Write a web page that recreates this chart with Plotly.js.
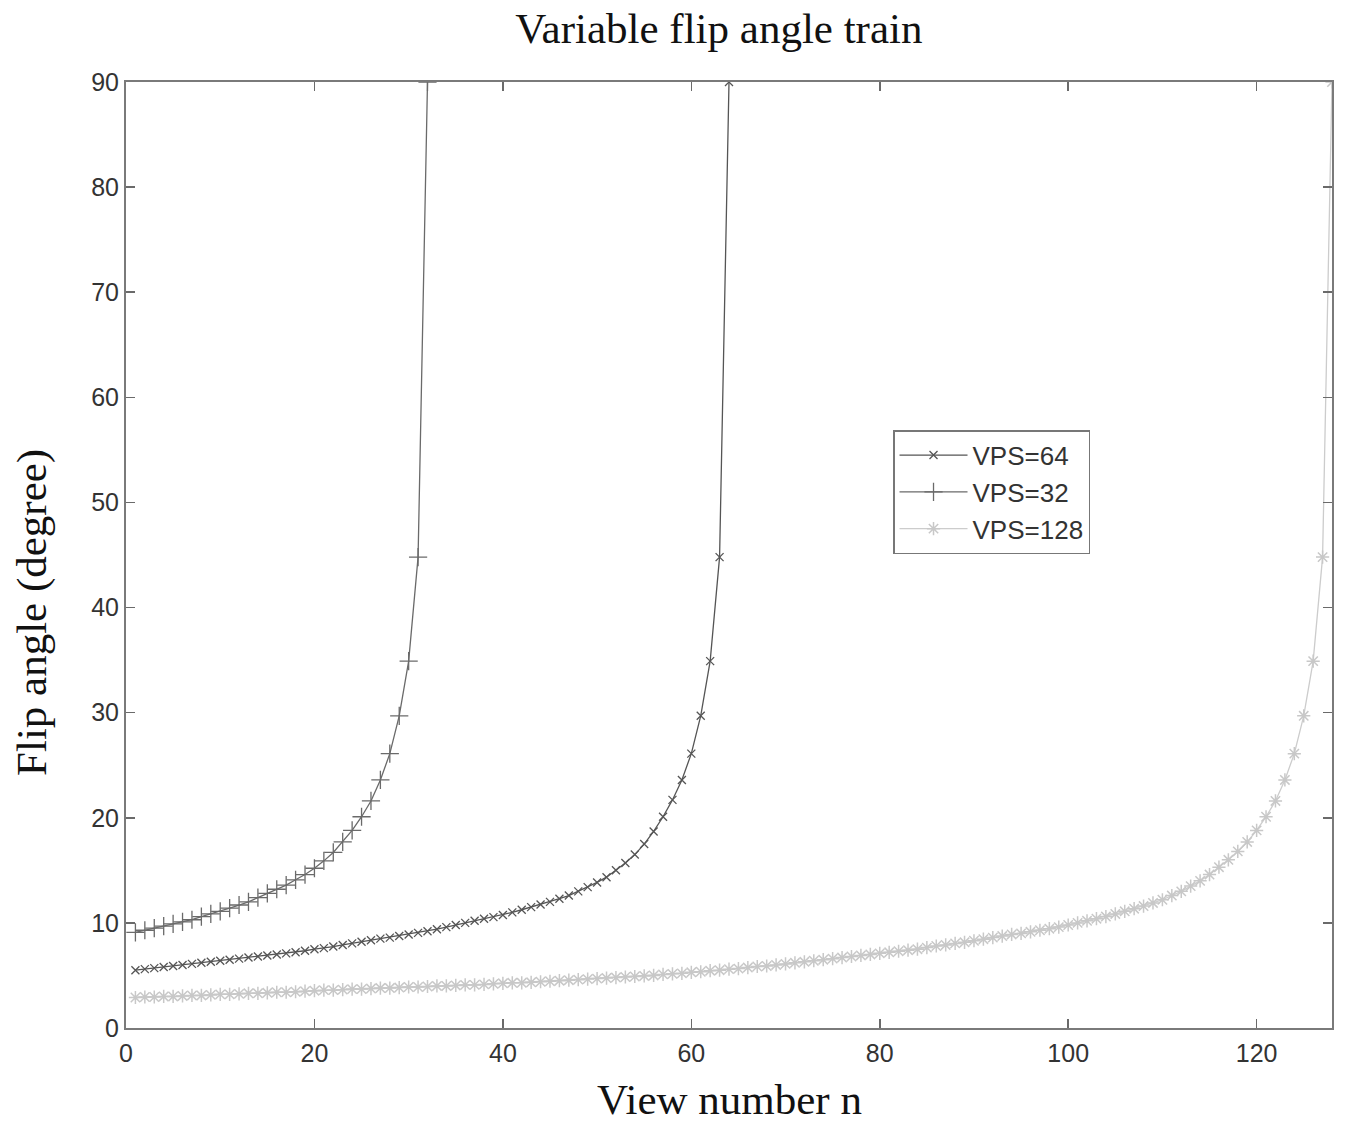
<!DOCTYPE html>
<html>
<head>
<meta charset="utf-8">
<script src="https://cdn.plot.ly/plotly-3.0.1.min.js"></script>
<style>html,body{margin:0;padding:0;background:#fff;}#chart{width:1345px;height:1125px;}</style>
</head>
<body>
<div id="chart"></div>
<script>
// Flip angle (degree) per view number n
const vps32 = [9.1, 9.3, 9.5, 9.7, 9.9, 10.1, 10.3, 10.6, 10.85, 11.1,
  11.4, 11.7, 12.0, 12.4, 12.8, 13.2, 13.6, 14.1, 14.6, 15.2,
  15.9, 16.7, 17.7, 18.8, 20.1, 21.6, 23.6, 26.1, 29.7, 34.9,
  44.8, 90];

const vps64 = [5.5, 5.6, 5.7, 5.8, 5.9, 6.0, 6.1, 6.2, 6.3, 6.4,
  6.5, 6.6, 6.7, 6.8, 6.9, 7.0, 7.1, 7.2, 7.35, 7.5,
  7.6, 7.75, 7.9, 8.05, 8.2, 8.35, 8.5, 8.6, 8.75, 8.9,
  9.05, 9.2, 9.4, 9.6, 9.8, 10.0, 10.2, 10.4, 10.55, 10.75,
  11.0, 11.25, 11.5, 11.75, 12.0, 12.3, 12.6, 13.0, 13.4, 13.85,
  14.35, 15.0, 15.7, 16.5, 17.5, 18.7, 20.1, 21.7, 23.6, 26.1,
  29.7, 34.9, 44.8, 90];

const vps128 = [2.9, 2.95, 2.95, 3.0, 3.0, 3.05, 3.1, 3.1, 3.15, 3.2,
  3.2, 3.25, 3.3, 3.3, 3.35, 3.4, 3.4, 3.45, 3.5, 3.55,
  3.6, 3.6, 3.65, 3.7, 3.7, 3.75, 3.8, 3.8, 3.85, 3.9,
  3.9, 3.95, 4.0, 4.0, 4.05, 4.1, 4.1, 4.15, 4.2, 4.25,
  4.3, 4.3, 4.35, 4.4, 4.45, 4.5, 4.55, 4.6, 4.65, 4.7,
  4.75, 4.8, 4.85, 4.9, 4.95, 5.0, 5.1, 5.15, 5.2, 5.3,
  5.35, 5.45, 5.5, 5.6, 5.65, 5.75, 5.85, 5.9, 6.0, 6.1,
  6.2, 6.3, 6.4, 6.5, 6.6, 6.7, 6.8, 6.9, 7.0, 7.1,
  7.2, 7.3, 7.4, 7.5, 7.65, 7.8, 7.9, 8.05, 8.15, 8.3,
  8.45, 8.6, 8.75, 8.9, 9.0, 9.15, 9.3, 9.45, 9.6, 9.8,
  10.0, 10.2, 10.4, 10.6, 10.85, 11.1, 11.35, 11.6, 11.9, 12.2,
  12.6, 13.0, 13.5, 14.0, 14.6, 15.3, 16.0, 16.8, 17.7, 18.8,
  20.1, 21.6, 23.6, 26.1, 29.7, 34.9, 44.8, 90];

const seriesNames = ["VPS=64", "VPS=32", "VPS=128"];
const xTicks = [0, 20, 40, 60, 80, 100, 120];
const yTicks = [0, 10, 20, 30, 40, 50, 60, 70, 80, 90];

function viewNumbers(arr) { return arr.map((_, i) => i + 1); }

const traces = [
  {
    name: seriesNames[0], x: viewNumbers(vps64), y: vps64,
    type: "scatter", mode: "lines+markers",
    line: {color: "#555555", width: 1.3},
    marker: {symbol: "x-thin", size: 8, color: "#555555", line: {color: "#555555", width: 1.3}}
  },
  {
    name: seriesNames[1], x: viewNumbers(vps32), y: vps32,
    type: "scatter", mode: "lines+markers",
    line: {color: "#6a6a6a", width: 1.3},
    marker: {symbol: "cross-thin", size: 13, color: "#6a6a6a", line: {color: "#6a6a6a", width: 1.3}}
  },
  {
    name: seriesNames[2], x: viewNumbers(vps128), y: vps128,
    type: "scatter", mode: "lines+markers",
    line: {color: "#cccccc", width: 1.3},
    marker: {symbol: "asterisk", size: 11, color: "#c8c8c8", line: {color: "#c8c8c8", width: 1.5}}
  }
];

const serif = "Liberation Serif, Times New Roman, serif";
const sans = "Liberation Sans, Arial, sans-serif";

const axisCommon = {
  showline: true, linecolor: "#7a7a7a", linewidth: 2, mirror: "ticks",
  ticks: "inside", ticklen: 9, tickwidth: 1.5, tickcolor: "#6a6a6a",
  showgrid: false, zeroline: false,
  tickfont: {family: sans, size: 25, color: "#333"}
};

const layout = {
  width: 1345, height: 1125,
  paper_bgcolor: "#ffffff", plot_bgcolor: "#ffffff",
  margin: {l: 126, r: 13, t: 82, b: 97},
  title: {
    text: "Variable flip angle train",
    font: {family: serif, size: 43, color: "#111"},
    x: 0.5345, xanchor: "center", y: 0.9755, yanchor: "middle"
  },
  xaxis: Object.assign({}, axisCommon, {
    range: [0, 128], tickvals: xTicks, ticktext: xTicks.map(String), ticklabelstandoff: 2
  }),
  yaxis: Object.assign({}, axisCommon, {
    range: [0, 90], tickvals: yTicks, ticktext: yTicks.map(String)
  }),
  annotations: [
    {text: "View number n", xref: "paper", yref: "paper", x: 0.5, y: -0.0761,
     xanchor: "center", yanchor: "middle", showarrow: false,
     font: {family: serif, size: 43, color: "#111"}},
    {text: "Flip angle (degree)", xref: "paper", yref: "paper", x: -0.0780, y: 0.4397,
     xanchor: "center", yanchor: "middle", showarrow: false, textangle: -90,
     font: {family: serif, size: 43, color: "#111"}}
  ],
  showlegend: true,
  legend: {
    x: 0.636, y: 0.632, xanchor: "left", yanchor: "top",
    bgcolor: "#ffffff", bordercolor: "#777777", borderwidth: 1.5,
    font: {family: sans, size: 26, color: "#333"},
    tracegroupgap: 0, itemwidth: 68
  }
};

Plotly.newPlot("chart", traces, layout, {displayModeBar: false, staticPlot: true});
</script>
</body>
</html>
